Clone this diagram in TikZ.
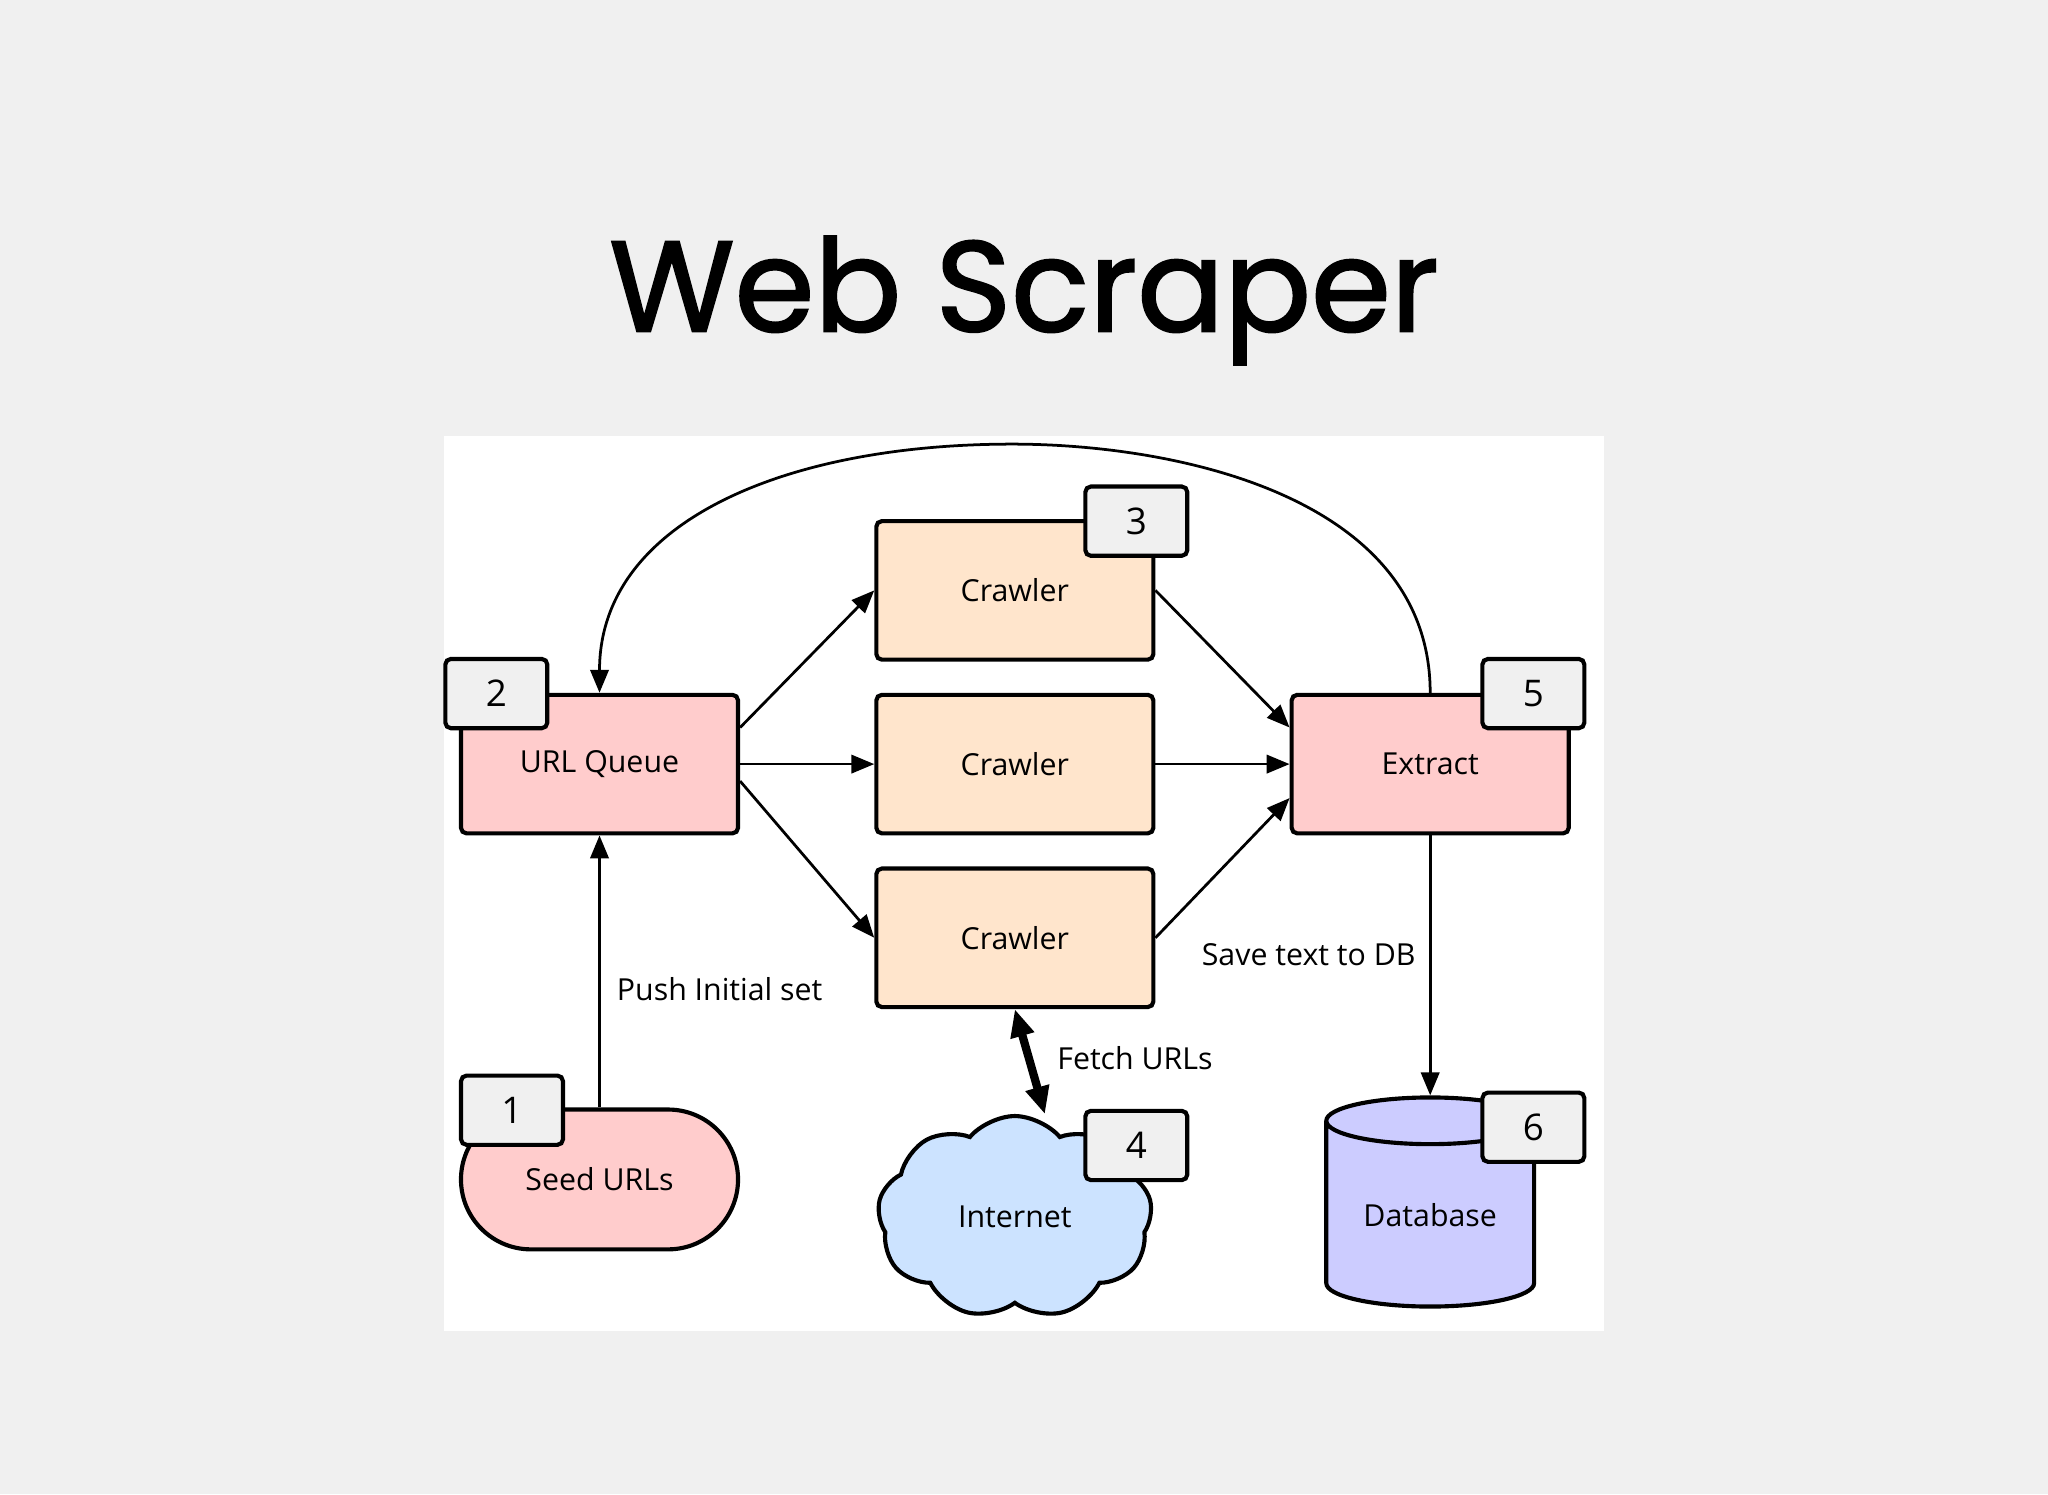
\documentclass[tikz,border=0pt]{standalone}
\usepackage{fontspec}
\setmainfont{Open Sans}
\newfontfamily\titlefont{Poppins}[FakeBold=1.6]
\usetikzlibrary{arrows.meta, shapes.misc, shapes.geometric, shapes.symbols}
\definecolor{cloudblue}{HTML}{CCE3FF}
\definecolor{dbblue}{HTML}{CCCCFF}
\begin{document}
\begin{tikzpicture}[x=0.01cm, y=-0.01cm,
    every node/.style={font=\fontsize{6.6}{8}\selectfont},
    box/.style={draw, line width=0.9pt, rounded corners=1.2pt, minimum width=2.12cm, minimum height=1.06cm, inner sep=0pt},
    crawler/.style={box, fill=orange!20!white},
    pinkbox/.style={box, fill=red!20!white},
    badge/.style={draw, line width=0.9pt, rounded corners=1.2pt, fill=gray!12, minimum width=0.78cm, minimum height=0.53cm, inner sep=0pt, font=\fontsize{8}{9}\selectfont},
    arr/.style={-{Triangle[length=5pt, width=4pt]}, line width=0.6pt},
    lbl/.style={inner sep=1pt}]
  % background and panel
  \fill[gray!12] (0,0) rectangle (1568,1144);
  \fill[white] (340,334) rectangle (1228,1019);
  \node[font=\titlefont\fontsize{28}{32}\selectfont] (title) at (784,230) {Web Scraper};

  % main nodes
  \node[pinkbox] (queue) at (459,585) {URL Queue};
  \node[crawler] (c1) at (777,452) {Crawler};
  \node[crawler] (c2) at (777,585) {Crawler};
  \node[crawler] (c3) at (777,718) {Crawler};
  \node[pinkbox] (extract) at (1095,585) {Extract};
  \node[draw, line width=0.9pt, fill=red!20!white, rounded rectangle, minimum width=2.12cm, minimum height=1.07cm, inner sep=0pt] (seed) at (459,903) {Seed URLs};
  \node[draw, line width=0.9pt, fill=cloudblue, cloud, cloud puffs=9, cloud puff arc=100, aspect=1.2, minimum width=2.1cm, minimum height=1.55cm, inner sep=0pt] (net) at (777,932) {Internet};
  \node[draw, line width=0.9pt, fill=dbblue, cylinder, shape border rotate=90, aspect=0.35, minimum width=1.59cm, minimum height=1.6cm, inner sep=0pt] (db) at (1095,930) {Database};

  % connectors
  \draw[arr] (queue.east |- 0,557) -- (c1.west |- 0,452);
  \draw[arr] (queue.east) -- (c2.west);
  \draw[arr] (queue.east |- 0,598) -- (c3.west |- 0,718);
  \draw[arr] (c1.east |- 0,452) -- (extract.west |- 0,557);
  \draw[arr] (c2.east) -- (extract.west);
  \draw[arr] (c3.east |- 0,718) -- (extract.west |- 0,611);
  \draw[arr] (extract.south) -- (db.top);
  \draw[arr] (seed.north) -- (queue.south);
  \node[lbl] (push) at (551,757) {Push Initial set};
  \draw[arr] (extract.north) .. controls (1095,380) and (900,340) .. (775,340)
     .. controls (600,340) and (459,400) .. (queue.north);
  \draw[{Triangle[length=6pt, width=5pt]}-{Triangle[length=6pt, width=5pt]}, line width=1.8pt] (c3.south) -- (800,853);
  \node[lbl] (fetch) at (869,810) {Fetch URLs};
  \node[lbl] (save) at (1002,731) {Save text to DB};

  % badges
  \node[badge] (b1) at (392,850) {1};
  \node[badge] (b2) at (380,531) {2};
  \node[badge] (b3) at (870,399) {3};
  \node[badge] (b4) at (870,877) {4};
  \node[badge] (b5) at (1174,531) {5};
  \node[badge] (b6) at (1174,863) {6};
\end{tikzpicture}
\end{document}
